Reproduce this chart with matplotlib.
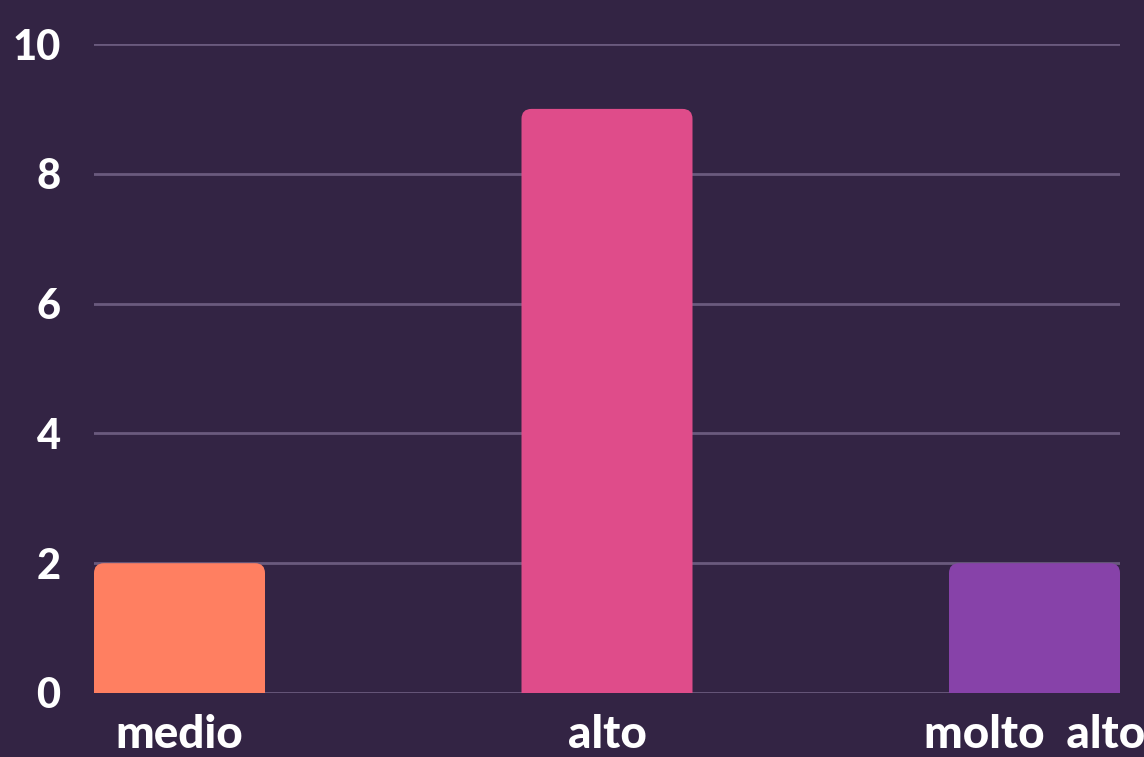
import matplotlib
matplotlib.use("Agg")
import matplotlib.pyplot as plt
from matplotlib.path import Path
from matplotlib.patches import PathPatch

categories = ["medio", "alto", "molto  alto"]
values = [2, 9, 2]
colors = ["#FF7F61", "#DF4C8A", "#8742A9"]
yticks = [0, 2, 4, 6, 8, 10]

BG = "#332444"
GRID = "#6A5A7E"

W, H, DPI = 1144, 757, 100
fig = plt.figure(figsize=(W / DPI, H / DPI), dpi=DPI, facecolor=BG)
ax = fig.add_axes([94 / W, 64 / H, (1120 - 94) / W, (693 - 44) / H], facecolor=BG)

bar_w = 0.4
ax.set_xlim(-0.2, 2.2)
ax.set_ylim(0, 10)

# corner radius in pixels -> data units
r_px = 10
rx = r_px * 2.4 / (1120 - 94)
ry = r_px * 10 / (693 - 44)


def rounded_top_bar(x, h, w, color):
    x0, x1 = x - w / 2, x + w / 2
    verts = [
        (x0, 0), (x0, h - ry), (x0, h), (x0 + rx, h),
        (x1 - rx, h), (x1, h), (x1, h - ry), (x1, 0), (x0, 0),
    ]
    codes = [
        Path.MOVETO, Path.LINETO, Path.CURVE3, Path.CURVE3,
        Path.LINETO, Path.CURVE3, Path.CURVE3, Path.LINETO, Path.CLOSEPOLY,
    ]
    ax.add_patch(PathPatch(Path(verts, codes), facecolor=color, edgecolor="none", zorder=3))


for i, (v, c) in enumerate(zip(values, colors)):
    rounded_top_bar(i, v, bar_w, c)

for y in yticks:
    ax.axhline(y, color=GRID, lw=2, zorder=1)

for s in ax.spines.values():
    s.set_visible(False)

font = ["Lato", "DejaVu Sans"]
ax.set_yticks(yticks)
ax.set_yticklabels([str(t) for t in yticks], fontsize=30, fontweight="black",
                   color="white", family=font)
ax.tick_params(axis="y", length=0, pad=24)
ax.set_xticks(range(len(categories)))
ax.set_xticklabels(categories, fontsize=33, fontweight="black", color="white", family=font)
ax.tick_params(axis="x", length=0, pad=15)

fig.savefig("out.png", dpi=DPI, facecolor=BG)
